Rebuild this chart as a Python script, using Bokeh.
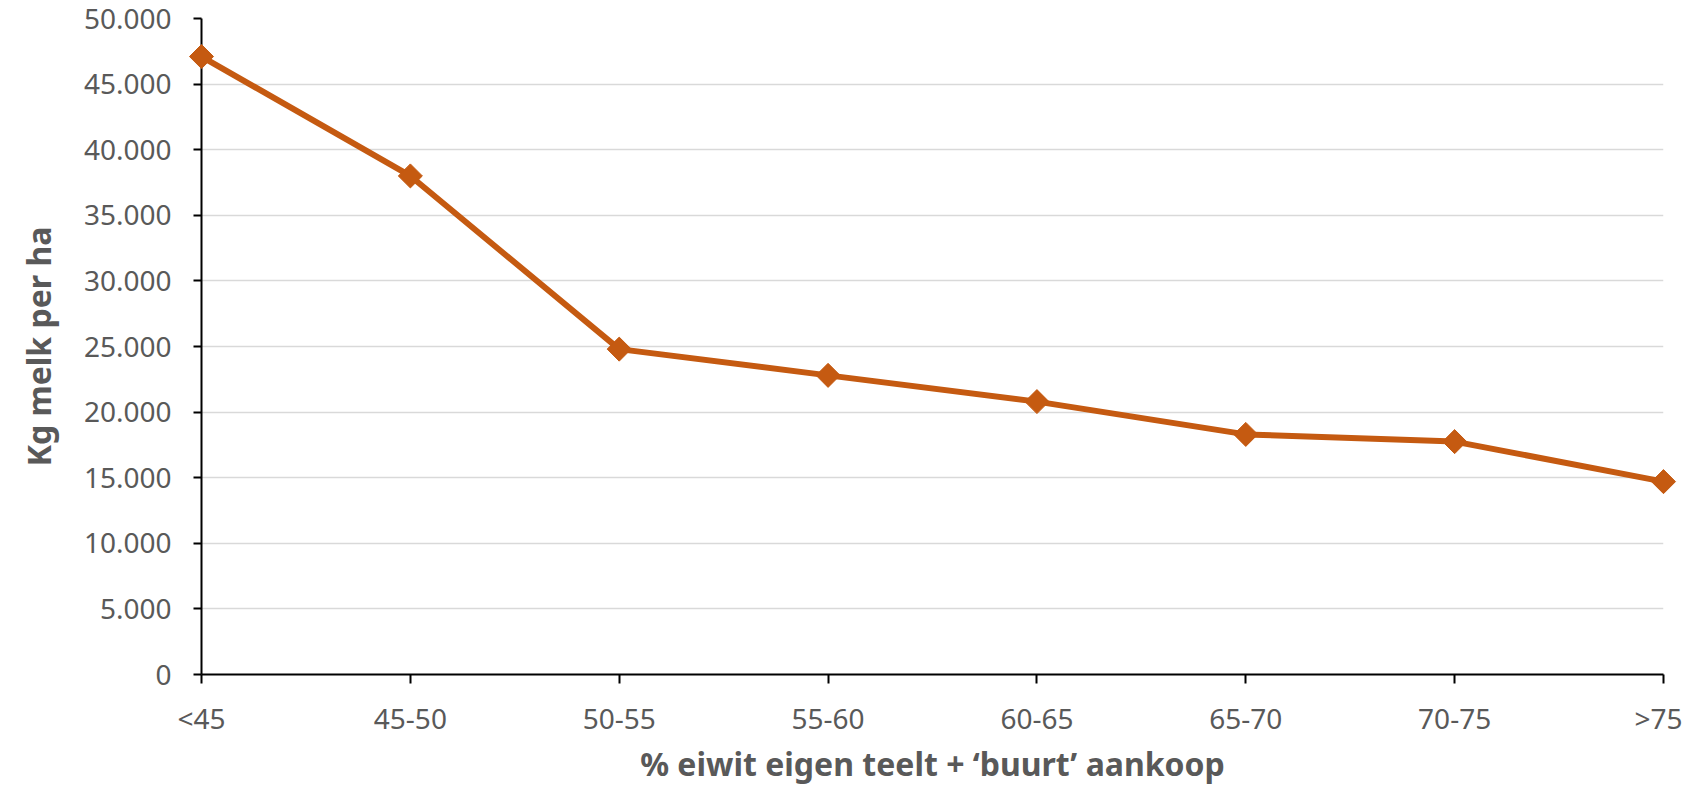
import math
from bokeh.plotting import figure
from bokeh.models import Range1d, FixedTicker
from bokeh.embed import file_html
from bokeh.resources import INLINE

# ---- data ----
categories = ["<45", "45-50", "50-55", "55-60", "60-65", "65-70", "70-75", ">75"]
melk_per_ha = [47100, 38000, 24800, 22800, 20800, 18300, 17750, 14700]
y_ticks = [0, 5000, 10000, 15000, 20000, 25000, 30000, 35000, 40000, 45000, 50000]
y_tick_labels = ["0", "5.000", "10.000", "15.000", "20.000", "25.000",
                 "30.000", "35.000", "40.000", "45.000", "50.000"]
x_title = "% eiwit eigen teelt + \u2018buurt\u2019 aankoop"
y_title = "Kg melk per ha"

LINE_COLOR = "#C55A11"
TEXT_COLOR = "#595959"
FONT = "Noto Sans"

xs = list(range(len(categories)))

p = figure(width=1682, height=787, output_backend="svg", toolbar_location=None,
           x_range=Range1d(0, len(categories) - 1), y_range=Range1d(0, 50000),
           min_border_left=201, min_border_right=19, min_border_top=18,
           min_border_bottom=112)
p.outline_line_color = None
p.background_fill_color = "white"
p.border_fill_color = "white"

p.line(xs, melk_per_ha, line_color=LINE_COLOR, line_width=6, level="overlay")
p.scatter(xs, melk_per_ha, marker="square", size=17, angle=math.pi / 4,
          fill_color=LINE_COLOR, line_color=LINE_COLOR, level="overlay")

p.xgrid.visible = False
p.ygrid.grid_line_color = "#D9D9D9"
p.ygrid.grid_line_width = 1.5
p.ygrid.ticker = FixedTicker(ticks=y_ticks)

p.xaxis.ticker = FixedTicker(ticks=xs)
p.xaxis.major_label_overrides = {i: c for i, c in enumerate(categories)}
p.yaxis.ticker = FixedTicker(ticks=y_ticks)
p.yaxis.major_label_overrides = {t: l for t, l in zip(y_ticks, y_tick_labels)}

for ax in (p.xaxis[0], p.yaxis[0]):
    ax.axis_line_color = "black"
    ax.axis_line_width = 2
    ax.major_tick_line_color = "black"
    ax.major_tick_line_width = 2
    ax.major_tick_in = 0
    ax.minor_tick_line_color = None
    ax.major_label_text_color = TEXT_COLOR
    ax.major_label_text_font = FONT
    ax.major_label_text_font_size = "28px"
    ax.axis_label_text_color = TEXT_COLOR
    ax.axis_label_text_font = FONT
    ax.axis_label_text_font_style = "bold"
    ax.axis_label_text_font_size = "32px"

p.xaxis.major_tick_out = 9
p.yaxis.major_tick_out = 8
p.xaxis.major_label_standoff = 15
p.yaxis.major_label_standoff = 22
p.xaxis.axis_label = x_title
p.yaxis.axis_label = y_title
p.xaxis.axis_label_standoff = 2
p.yaxis.axis_label_standoff = 21

open("out.html", "w").write(file_html(p, INLINE))
